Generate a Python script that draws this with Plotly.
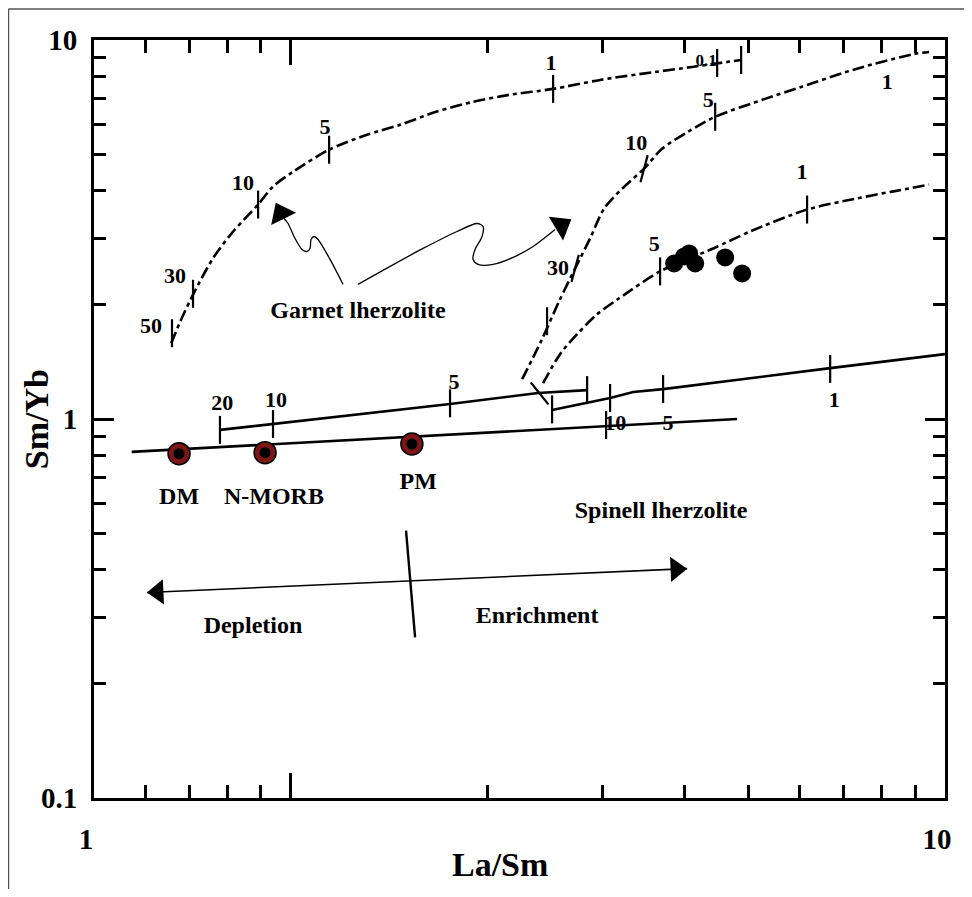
import math
import plotly.graph_objects as go

# ---------------- data ----------------
# garnet-lherzolite melting curve (upper left, dash-dot)
garnet_x = [0.656, 0.682, 0.709, 0.760, 0.816, 0.891, 0.939, 1.008, 1.144, 1.307,
            1.469, 1.667, 1.899, 2.155, 2.517, 2.970, 3.604, 4.106, 4.879]
garnet_y = [1.585, 1.855, 2.133, 2.653, 3.124, 3.680, 4.104, 4.494, 5.135, 5.623,
            5.974, 6.465, 6.867, 7.165, 7.430, 7.847, 8.236, 8.490, 8.859]

# mixed garnet/spinel curves (dash-dot)
mix1_x = [2.257, 2.413, 2.570, 2.720, 2.867, 3.012, 3.210, 3.467, 3.694, 4.049,
          4.453, 5.308, 6.026, 7.313, 8.971, 9.456]
mix1_y = [1.274, 1.605, 2.044, 2.497, 2.995, 3.592, 4.055, 4.577, 5.167, 5.727,
          6.273, 6.993, 7.520, 8.389, 9.187, 9.299]
mix2_x = [2.430, 2.579, 2.739, 2.938, 3.176, 3.668, 4.422, 5.035, 6.154, 7.313, 8.302, 9.456]
mix2_y = [1.244, 1.483, 1.674, 1.889, 2.082, 2.452, 2.818, 3.124, 3.570, 3.816, 3.981, 4.154]

# spinel-lherzolite melting curves (solid)
spinel_a1_x = [0.779, 0.939, 1.751, 2.387, 2.837]
spinel_a1_y = [0.936, 0.970, 1.095, 1.171, 1.192]
spinel_a2_x = [2.508, 3.076, 3.337, 3.707, 6.675, 10.0]
spinel_a2_y = [1.056, 1.136, 1.178, 1.199, 1.362, 1.483]
mantle_array_x = [0.571, 4.811]
mantle_array_y = [0.819, 1.000]

# melting-degree tick marks on the curves
curve_tick_x = [0.658, 0.7085, 0.891, 1.144, 2.517, 4.484, 4.879,
                2.464, 2.720, 3.467, 4.453,
                3.668, 6.154,
                0.779, 0.939, 1.751, 2.400, 2.837,
                2.508, 3.076, 3.707, 6.675,
                3.033]
curve_tick_y = [1.684, 2.140, 3.680, 5.135, 7.430, 8.699, 8.859,
                1.811, 2.497, 4.577, 6.273,
                2.452, 3.570,
                0.936, 0.970, 1.100, 1.168, 1.192,
                1.060, 1.136, 1.199, 1.356,
                0.964]
curve_tick_angle = [0, 0, 0, 0, 0, 0, 0,
                    0, 15, 15, 0,
                    0, 0,
                    0, 0, 0, -39, 0,
                    0, 0, 0, 0,
                    0]

# melting-degree labels (%)
pct_text = ["50", "30", "10", "5", "1",
            "30", "10", "5", "1",
            "5", "1",
            "20", "10", "5", "1",
            "10", "5"]
pct_x = [0.611, 0.665, 0.845, 1.128, 2.499,
         2.561, 3.372, 4.345, 8.157,
         3.592, 6.047,
         0.785, 0.949, 1.776, 6.769,
         3.131, 3.773]
pct_y = [1.747, 2.364, 4.154, 5.832, 8.595,
         2.482, 5.293, 6.868, 7.658,
         2.870, 4.440,
         1.095, 1.115, 1.244, 1.115,
         0.970, 0.970]
small_pct_text = ["0.1"]
small_pct_x = [4.314]
small_pct_y = [8.752]

# mantle end-members
member_names = ["DM", "N-MORB", "PM"]
member_x = [0.6745, 0.913, 1.531]
member_y = [0.810, 0.815, 0.859]
member_label_x = [0.6745, 0.942, 1.565]
member_label_y = [0.620, 0.620, 0.679]

# samples
sample_x = [3.854, 3.992, 4.063, 4.150, 4.612, 4.896]
sample_y = [2.573, 2.685, 2.734, 2.573, 2.669, 2.422]

# field / trend labels
region_text = ["Garnet lherzolite", "Spinell lherzolite", "Depletion", "Enrichment"]
region_x = [1.266, 3.681, 0.875, 2.379]
region_y = [1.913, 0.569, 0.282, 0.2995]

# depletion / enrichment arrow and divider
trend_x = [0.6026, 4.0347]
trend_y = [0.3484, 0.4029]
trend_head_x = [0.6262, 3.8808]
trend_head_y = [0.3494, 0.4017]
divider_x = [1.4998, 1.5483]
divider_y = [0.5073, 0.2652]

# wavy arrows in the garnet field
wavy_left_x = [1.2015, 1.1478, 1.1003, 1.0848, 1.0734, 1.0697, 1.0584, 1.0400, 1.0146, 0.9900, 0.9761]
wavy_left_y = [2.2656, 2.6367, 2.9764, 3.0310, 2.9764, 2.8184, 2.7676, 2.8013, 2.9949, 3.2797, 3.3808]
wavy_right_x = [1.2664, 1.4178, 1.5922, 1.7947, 1.9257, 1.9668, 1.9599, 1.9122, 1.8987, 1.9325,
                2.0378, 2.1862, 2.3457, 2.5344]
wavy_right_y = [2.2656, 2.5272, 2.8184, 3.1243, 3.2797, 3.2206, 3.0310, 2.8013, 2.6367, 2.5580,
                2.5580, 2.6690, 2.8530, 3.1623]
wavy_head_x = [0.9658, 2.5884]
wavy_head_y = [3.4845, 3.2402]
wavy_head_angle = [-26, 59]

# axis ticks
x_major = [0.5, 1, 10]
x_major_text = ["1", "", "10"]
x_minor = [0.6, 0.7, 0.8, 0.9, 2, 3, 4, 5, 6, 7, 8, 9]
y_major = [0.1, 1, 10]
y_major_text = ["0.1", "1", "10"]
y_minor = [0.2, 0.3, 0.4, 0.5, 0.6, 0.7, 0.8, 0.9, 2, 3, 4, 5, 6, 7, 8, 9]

# ---------------- figure ----------------
SERIF = "Liberation Serif"
fig = go.Figure()


def line(x, y, width=2.5, dash=None, shape="linear"):
    fig.add_trace(go.Scatter(
        x=x, y=y, mode="lines", hoverinfo="skip", showlegend=False,
        line=dict(color="black", width=width, dash=dash, shape=shape, smoothing=0.8)))


DASHDOT = "12px,4px,4px,4px"
line(garnet_x, garnet_y, 2.6, DASHDOT, "spline")
line(mix1_x, mix1_y, 2.6, DASHDOT, "spline")
line(mix2_x, mix2_y, 2.6, DASHDOT, "spline")
line(spinel_a1_x, spinel_a1_y, 2.6)
line(spinel_a2_x, spinel_a2_y, 2.6)
line(mantle_array_x, mantle_array_y, 2.6)
line(trend_x, trend_y, 1.6)
line(divider_x, divider_y, 2.4)
line(wavy_left_x, wavy_left_y, 1.3, None, "spline")
line(wavy_right_x, wavy_right_y, 1.3, None, "spline")

# tick marks on curves
fig.add_trace(go.Scatter(
    x=curve_tick_x, y=curve_tick_y, mode="markers", hoverinfo="skip", showlegend=False,
    marker=dict(symbol="line-ns", size=20, angle=curve_tick_angle,
                line=dict(color="black", width=2.2))))

# arrow heads
fig.add_trace(go.Scatter(
    x=trend_head_x, y=trend_head_y, mode="markers", hoverinfo="skip", showlegend=False,
    marker=dict(symbol=["triangle-left", "triangle-right"], size=22, angle=-2.5,
                color="black", line=dict(width=0))))
fig.add_trace(go.Scatter(
    x=wavy_head_x, y=wavy_head_y, mode="markers", hoverinfo="skip", showlegend=False,
    marker=dict(symbol="triangle-up", size=24, angle=wavy_head_angle,
                color="black", line=dict(width=0))))

# end-members
fig.add_trace(go.Scatter(
    x=member_x, y=member_y, mode="markers", hoverinfo="skip", showlegend=False,
    marker=dict(symbol="circle", size=22, color="#7d1717", line=dict(color="black", width=1.5))))
fig.add_trace(go.Scatter(
    x=member_x, y=member_y, mode="markers", hoverinfo="skip", showlegend=False,
    marker=dict(symbol="circle", size=11, color="black", line=dict(width=0))))

# samples
fig.add_trace(go.Scatter(
    x=sample_x, y=sample_y, mode="markers", hoverinfo="skip", showlegend=False,
    marker=dict(symbol="circle", size=18, color="black", line=dict(width=0))))


def text(t, x, y, size):
    fig.add_trace(go.Scatter(
        x=x, y=y, text=t, mode="text", hoverinfo="skip", showlegend=False,
        textposition="middle center", cliponaxis=False,
        textfont=dict(family=SERIF, size=size, color="black", weight="bold")))


text(pct_text, pct_x, pct_y, 22)
text(small_pct_text, small_pct_x, small_pct_y, 17)
text(member_names, member_label_x, member_label_y, 24)
text(region_text, region_x, region_y, 24)

tickfont = dict(family=SERIF, size=29, color="black", weight="bold")
# the page body adds an 8 px margin, so the figure is 16 px smaller than the window
fig.update_layout(
    width=956, height=881,
    margin=dict(l=86, r=19, t=32, b=91),
    paper_bgcolor="white", plot_bgcolor="white",
    showlegend=False,
    xaxis=dict(
        type="log", range=[math.log10(0.5), 1],
        showline=True, linewidth=3, linecolor="black", mirror="allticks",
        ticks="inside", ticklen=25, tickwidth=2.5, tickcolor="black",
        tickvals=x_major, ticktext=x_major_text, tickfont=tickfont,
        ticklabelstandoff=13, ticklabelshift=-8,
        showgrid=False, zeroline=False,
        minor=dict(ticks="inside", ticklen=13, tickwidth=2.5, tickcolor="black",
                   tickvals=x_minor, showgrid=False),
    ),
    yaxis=dict(
        type="log", range=[-1, 1],
        showline=True, linewidth=3, linecolor="black", mirror="allticks",
        ticks="inside", ticklen=20, tickwidth=2.5, tickcolor="black",
        tickvals=y_major, ticktext=y_major_text, tickfont=tickfont,
        ticklabelstandoff=8,
        showgrid=False, zeroline=False,
        minor=dict(ticks="inside", ticklen=12, tickwidth=2.5, tickcolor="black",
                   tickvals=y_minor, showgrid=False),
    ),
    annotations=[
        dict(text="La/Sm", xref="paper", yref="paper", x=0.477, y=-0.088,
             showarrow=False, xanchor="center", yanchor="middle",
             font=dict(family=SERIF, size=34, color="black", weight="bold")),
        dict(text="Sm/Yb", xref="paper", yref="paper", x=-0.068, y=0.5,
             showarrow=False, xanchor="center", yanchor="middle", textangle=-90,
             font=dict(family=SERIF, size=34, color="black", weight="bold")),
    ],
    shapes=[
        dict(type="line", xref="paper", yref="paper", x0=-0.1005, x1=-0.1005, y0=-0.125, y1=1.041,
             line=dict(color="#555555", width=1.5)),
        dict(type="line", xref="paper", yref="paper", x0=-0.1005, x1=1.03, y0=1.041, y1=1.041,
             line=dict(color="#555555", width=1.5)),
    ],
)

fig.write_html("out.html")
